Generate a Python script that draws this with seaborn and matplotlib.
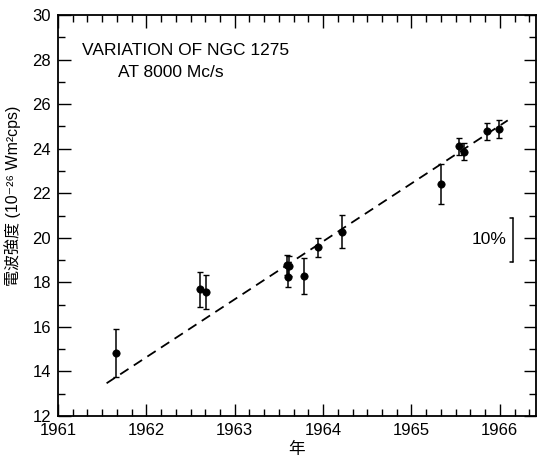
import numpy as np
import pandas as pd
import seaborn as sns
import matplotlib.pyplot as plt
from matplotlib.ticker import MultipleLocator

# observed flux of NGC 1275 at 8000 Mc/s
years = [1961.66, 1962.61, 1962.67, 1963.59, 1963.62, 1963.60, 1963.78,
         1963.94, 1964.21, 1965.33, 1965.54, 1965.60, 1965.85, 1965.99]
flux = [14.82, 17.69, 17.57, 18.79, 18.75, 18.26, 18.29,
        19.58, 20.28, 22.41, 24.10, 23.87, 24.78, 24.88]
err = [1.08, 0.78, 0.78, 0.45, 0.45, 0.45, 0.80,
       0.43, 0.75, 0.90, 0.40, 0.40, 0.38, 0.40]

# dashed trend line end points
fit_x = [1961.55, 1966.09]
fit_y = [13.47, 25.27]

# 10% scale bar
bar_x = 1966.15
bar_y = [18.93, 20.88]

df = pd.DataFrame({'Year': years, 'Flux': flux, 'Err': err})
fit = pd.DataFrame({'Year': fit_x, 'Flux': fit_y})

sns.set_style("ticks")
plt.rcParams['font.family'] = ['Liberation Sans', 'Noto Sans CJK JP', 'DejaVu Sans']
plt.rcParams.update({'text.color': 'black', 'axes.labelcolor': 'black',
                     'xtick.color': 'black', 'ytick.color': 'black'})

fig = plt.figure(figsize=(5.38, 4.62), dpi=100)
ax = fig.add_axes([58/538, 46/462, 478/538, 401/462])

sns.lineplot(data=fit, x='Year', y='Flux', ax=ax, color='black', lw=1.3,
             dashes=False, linestyle=(0, (5.5, 3.5)))
ax.errorbar(df.Year, df.Flux, yerr=df.Err, fmt='none', ecolor='black',
            elinewidth=1.1, capsize=2.2, capthick=1.0)
sns.scatterplot(data=df, x='Year', y='Flux', ax=ax, color='black', s=28,
                edgecolor='black', linewidth=0.5, zorder=5)

# 10% bar
ax.plot([bar_x, bar_x], bar_y, color='black', lw=1.1)
ax.plot([bar_x - 0.035, bar_x], [bar_y[0], bar_y[0]], color='black', lw=1.1)
ax.plot([bar_x - 0.035, bar_x], [bar_y[1], bar_y[1]], color='black', lw=1.1)
ax.text(bar_x - 0.07, np.mean(bar_y), '10%', ha='right', va='center', fontsize=12.5)

ax.text(0.05, 0.912, 'VARIATION OF NGC 1275', transform=ax.transAxes,
        fontsize=12.5, ha='left', va='center')
ax.text(0.126, 0.857, 'AT 8000 Mc/s', transform=ax.transAxes,
        fontsize=12.5, ha='left', va='center')

ax.set_xlim(1961, 1966.41)
ax.set_ylim(12, 30)
ax.xaxis.set_major_locator(MultipleLocator(1))
ax.xaxis.set_minor_locator(MultipleLocator(1/6))
ax.yaxis.set_major_locator(MultipleLocator(2))
ax.yaxis.set_minor_locator(MultipleLocator(1))
ax.set_xticks([1961, 1962, 1963, 1964, 1965, 1966])
ax.set_xticklabels(['1961', '1962', '1963', '1964', '1965', '1966'])
ax.tick_params(which='both', direction='in', top=True, right=True,
               labelsize=12, width=1.0, color='black')
ax.tick_params(which='major', length=9)
ax.tick_params(which='minor', length=5)
ax.tick_params(axis='x', pad=5)
ax.tick_params(axis='y', pad=5)
for s in ax.spines.values():
    s.set_linewidth(1.3)
    s.set_color('black')

ax.set_xlabel('年', fontsize=12, labelpad=3)
ax.set_ylabel('電波強度 (10⁻²⁶ Wm²cps)', fontsize=11.5)
ax.yaxis.set_label_coords(-0.078, 0.55)

fig.savefig('out.png', dpi=100)
